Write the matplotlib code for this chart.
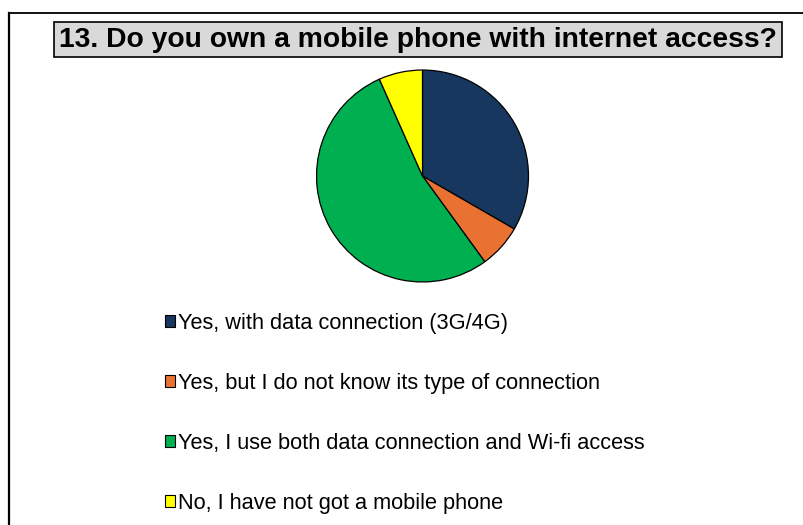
import matplotlib
matplotlib.use("Agg")
import matplotlib.pyplot as plt
from matplotlib.patches import Rectangle
from matplotlib.lines import Line2D

W, H = 804, 525
DPI = 100

TITLE = "13. Do you own a mobile phone with internet access?"
labels = [
    "Yes, with data connection (3G/4G)",
    "Yes, but I do not know its type of connection",
    "Yes, I use both data connection and Wi-fi access",
    "No, I have not got a mobile phone",
]
counts = [5, 1, 8, 1]
colors = ["#17375E", "#E97132", "#00B050", "#FFFF00"]

plt.rcParams["font.family"] = ["Liberation Sans", "DejaVu Sans"]

fig = plt.figure(figsize=(W / DPI, H / DPI), dpi=DPI)

def px_box(x0, y0, x1, y1):
    # pixel box (top-left origin) -> figure fraction rect
    return [x0 / W, 1 - y1 / H, (x1 - x0) / W, (y1 - y0) / H]

# outer frame: left and top edges only
fig.add_artist(Line2D([8.5 / W, 8.5 / W], [0, 1 - 13 / H], color="black",
                      lw=1.6, transform=fig.transFigure))
fig.add_artist(Line2D([8.5 / W, 1], [1 - 13 / H, 1 - 13 / H], color="black",
                      lw=1.3, transform=fig.transFigure))

# title box
bx = px_box(54, 22, 782, 57)
fig.add_artist(Rectangle((bx[0], bx[1]), bx[2], bx[3], transform=fig.transFigure,
                         facecolor="#D9D9D9", edgecolor="black", lw=1.2))
fig.text(418 / W, 1 - 40 / H, TITLE, ha="center", va="center",
         fontsize=20.3, fontweight="bold")

# pie
cx, cy, r = 422.5, 176, 106.5
ax = fig.add_axes(px_box(cx - r, cy - r, cx + r, cy + r))
wedges, _ = ax.pie(counts, colors=colors, startangle=90, counterclock=False,
                   wedgeprops=dict(edgecolor="black", linewidth=0.9))
ax.set_xlim(-1.005, 1.005)
ax.set_ylim(-1.005, 1.005)
ax.set_aspect("equal")
ax.axis("off")

leg = fig.legend(wedges, labels, loc="upper left",
                 bbox_to_anchor=(165 / W, 1 - 313 / H),
                 frameon=False, fontsize=15.7,
                 handlelength=0.46, handleheight=0.46,
                 handletextpad=0.15, labelspacing=1.79,
                 borderaxespad=0, borderpad=0)
for h in leg.legend_handles:
    h.set_edgecolor("black")
    h.set_linewidth(0.8)

fig.savefig("out.png", dpi=DPI)
